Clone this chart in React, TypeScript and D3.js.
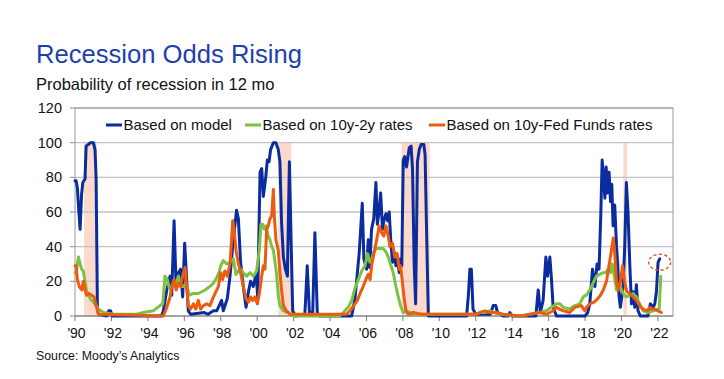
import React from "react";
import * as d3 from "d3";

type Pt = [number, number];

const yTicks = [0, 20, 40, 60, 80, 100, 120];
const xTickYears = [1990, 1992, 1994, 1996, 1998, 2000, 2002, 2004, 2006, 2008, 2010, 2012, 2014, 2016, 2018, 2020, 2022];
const xTickLabels = ["'90", "'92", "'94", "'96", "'98", "'00", "'02", "'04", "'06", "'08", "'10", "'12", "'14", "'16", "'18", "'20", "'22"];

const recessionStarts = [1990.5, 2001.17, 2007.92, 2020.1];
const recessionEnds = [1991.2, 2001.88, 2009.47, 2020.3];

const seriesNames = ["Based on model", "Based on 10y-2y rates", "Based on 10y-Fed Funds rates"];

const modelData: Pt[] = [
  [1990.0, 78], [1990.06, 78], [1990.13, 74], [1990.2, 62], [1990.28, 50], [1990.36, 70], [1990.43, 77], [1990.55, 79], [1990.61, 98], [1990.74, 99], [1990.83, 100], [1991.01, 100], [1991.1, 96], [1991.16, 79], [1991.23, 5], [1991.29, 1], [1991.75, 0], [1991.85, 3], [1991.95, 3], [1992.05, 0],
  [1994.75, 0], [1994.85, 3], [1995.04, 15], [1995.22, 23], [1995.31, 12], [1995.44, 55], [1995.55, 17], [1995.68, 25], [1995.8, 27], [1995.91, 11], [1996.02, 42], [1996.13, 21], [1996.22, 3], [1996.35, 1], [1997.1, 2], [1997.3, 1], [1997.6, 3], [1997.78, 3], [1997.96, 7], [1998.05, 9], [1998.14, 3], [1998.36, 10], [1998.51, 23], [1998.69, 44], [1998.87, 61], [1998.97, 56], [1999.09, 31], [1999.24, 17], [1999.39, 5], [1999.52, 14], [1999.64, 20], [1999.79, 17], [1999.94, 25], [2000.03, 11],
  [2000.16, 83], [2000.25, 85], [2000.34, 69], [2000.47, 80], [2000.56, 90], [2000.65, 89], [2000.74, 96], [2000.89, 100], [2001.03, 100], [2001.16, 96], [2001.25, 89], [2001.34, 54], [2001.44, 34], [2001.55, 27], [2001.66, 23], [2001.77, 89], [2001.84, 55], [2001.95, 3], [2002.1, 0], [2002.62, 1], [2002.75, 29], [2002.87, 2], [2003.05, 2], [2003.17, 48], [2003.3, 2], [2003.4, 0],
  [2005.19, 0], [2005.37, 10], [2005.6, 36], [2005.77, 65], [2005.86, 33], [2006.01, 27], [2006.1, 44], [2006.18, 28], [2006.28, 50], [2006.4, 56], [2006.52, 77], [2006.6, 53], [2006.69, 60], [2006.78, 71], [2006.88, 50], [2006.96, 55], [2007.07, 59], [2007.16, 55], [2007.25, 60], [2007.34, 43], [2007.43, 31], [2007.52, 37], [2007.62, 29], [2007.71, 33], [2007.8, 25], [2007.87, 33], [2007.94, 29],
  [2008.02, 90], [2008.1, 92], [2008.2, 86], [2008.35, 97], [2008.45, 98], [2008.53, 85], [2008.62, 30], [2008.7, 7], [2008.8, 89], [2008.9, 96], [2009.0, 99], [2009.15, 99], [2009.22, 93], [2009.3, 50], [2009.4, 0],
  [2011.5, 0], [2011.59, 11], [2011.68, 27], [2011.76, 27], [2011.85, 4], [2012.0, 1], [2012.8, 1], [2012.96, 6], [2013.1, 6], [2013.2, 2], [2013.5, 0], [2013.8, 0], [2013.87, 2], [2014.0, 0],
  [2015.3, 0], [2015.43, 15], [2015.55, 2], [2015.7, 9], [2015.85, 34], [2015.94, 23], [2016.07, 34], [2016.16, 21], [2016.25, 5], [2016.43, 0], [2018.0, 0], [2018.15, 2], [2018.26, 7], [2018.41, 27], [2018.54, 17], [2018.66, 30], [2018.77, 27], [2018.87, 60], [2018.94, 90], [2019.01, 81], [2019.09, 68], [2019.16, 86], [2019.23, 71], [2019.32, 83], [2019.4, 66], [2019.47, 76], [2019.54, 52], [2019.63, 64], [2019.73, 40], [2019.8, 29], [2019.87, 11], [2019.94, 5],
  [2020.09, 17], [2020.18, 40], [2020.27, 77], [2020.36, 60], [2020.46, 29], [2020.55, 7], [2020.64, 14], [2020.73, 5], [2020.82, 18], [2020.91, 3], [2021.04, 0], [2021.45, 0], [2021.59, 7], [2021.74, 5], [2021.83, 7], [2021.92, 14], [2022.01, 31], [2022.1, 33],
];

const spreadData: Pt[] = [
  [1990.0, 25], [1990.06, 25], [1990.19, 34], [1990.28, 30], [1990.37, 27], [1990.46, 26], [1990.55, 20], [1990.64, 14], [1990.74, 13], [1990.83, 10], [1991.01, 8], [1991.16, 6], [1991.29, 4], [1991.56, 2], [1992.11, 1], [1993.39, 1], [1993.75, 2], [1994.3, 3], [1994.67, 6], [1994.82, 7],
  [1994.94, 23], [1995.07, 21], [1995.18, 16], [1995.31, 17], [1995.4, 19], [1995.55, 19], [1995.68, 23], [1995.8, 17], [1995.95, 17], [1996.1, 19], [1996.17, 16], [1996.28, 12], [1996.5, 13], [1996.77, 13], [1996.96, 14], [1997.14, 15], [1997.41, 17], [1997.6, 19], [1997.78, 22], [1997.93, 26], [1998.0, 29], [1998.14, 32], [1998.33, 30], [1998.51, 31], [1998.69, 33], [1998.84, 24], [1998.97, 26], [1999.09, 27], [1999.24, 25], [1999.42, 23], [1999.61, 25], [1999.79, 23], [1999.97, 26],
  [2000.12, 38], [2000.21, 53], [2000.3, 53], [2000.39, 50], [2000.48, 52], [2000.61, 46], [2000.7, 44], [2000.8, 40], [2000.89, 38], [2000.98, 31], [2001.07, 24], [2001.16, 12], [2001.25, 6], [2001.44, 3], [2001.71, 2], [2002.0, 0], [2004.5, 0], [2004.73, 2], [2005.0, 5], [2005.19, 9], [2005.37, 16], [2005.55, 21], [2005.74, 26], [2005.92, 29], [2006.06, 36], [2006.19, 31], [2006.3, 33], [2006.4, 37], [2006.56, 39], [2006.74, 39], [2006.92, 39], [2007.07, 37], [2007.2, 34], [2007.32, 30], [2007.47, 25], [2007.62, 17], [2007.75, 11], [2007.87, 6], [2008.02, 2], [2008.2, 3], [2008.57, 1],
  [2012.0, 1], [2012.23, 2], [2012.5, 2], [2012.78, 3], [2013.0, 2], [2013.3, 1], [2014.4, 0], [2014.97, 1], [2015.52, 2], [2015.88, 3], [2016.16, 5], [2016.43, 7], [2016.62, 7], [2016.8, 5], [2017.16, 4], [2017.44, 6], [2017.71, 7], [2017.9, 11], [2018.08, 12], [2018.26, 15], [2018.44, 19], [2018.63, 23], [2018.81, 24], [2018.99, 25], [2019.14, 25], [2019.27, 27], [2019.4, 25], [2019.5, 30], [2019.61, 23], [2019.73, 15], [2019.84, 17], [2019.94, 17],
  [2020.09, 13], [2020.27, 11], [2020.46, 12], [2020.64, 13], [2020.82, 11], [2021.0, 7], [2021.19, 3], [2021.46, 2], [2021.74, 3], [2022.07, 4], [2022.16, 23],
];

const fedFundsData: Pt[] = [
  [1990.0, 29], [1990.06, 29], [1990.13, 21], [1990.24, 17], [1990.37, 15], [1990.46, 20], [1990.55, 15], [1990.64, 12], [1990.77, 13], [1990.92, 12], [1991.05, 11], [1991.16, 6], [1991.29, 1], [1994.85, 0],
  [1995.04, 5], [1995.22, 11], [1995.31, 17], [1995.44, 21], [1995.55, 15], [1995.68, 19], [1995.8, 17], [1995.91, 23], [1996.04, 28], [1996.13, 17], [1996.22, 6], [1996.35, 4], [1996.5, 7], [1996.63, 4], [1996.77, 9], [1996.9, 4], [1997.05, 6], [1997.23, 7], [1997.41, 6], [1997.56, 10], [1997.69, 13], [1997.87, 17], [1998.0, 25], [1998.1, 21], [1998.23, 26], [1998.36, 23], [1998.51, 30], [1998.66, 55], [1998.73, 50], [1998.84, 38], [1998.97, 30], [1999.09, 25], [1999.24, 17], [1999.39, 10], [1999.52, 8], [1999.64, 11], [1999.75, 9], [1999.88, 11], [2000.01, 7],
  [2000.12, 13], [2000.25, 23], [2000.34, 29], [2000.43, 27], [2000.52, 50], [2000.61, 52], [2000.7, 56], [2000.8, 58], [2000.89, 73], [2000.94, 58], [2001.03, 44], [2001.16, 38], [2001.25, 25], [2001.34, 15], [2001.44, 6], [2001.6, 3], [2001.8, 1], [2004.9, 1], [2005.1, 3], [2005.3, 6], [2005.5, 9], [2005.65, 13], [2005.82, 17], [2006.0, 22], [2006.1, 24], [2006.2, 21], [2006.3, 30], [2006.45, 38], [2006.58, 45], [2006.7, 52], [2006.83, 48], [2006.95, 46], [2007.07, 52], [2007.2, 46], [2007.29, 40], [2007.43, 42], [2007.56, 34], [2007.69, 36], [2007.8, 27], [2007.87, 29], [2007.98, 19], [2008.06, 11], [2008.17, 3], [2008.3, 1], [2008.57, 2], [2009.0, 1],
  [2012.0, 1], [2012.23, 2], [2012.5, 3], [2012.78, 2], [2013.14, 2], [2013.5, 1], [2014.5, 0], [2015.0, 1], [2015.52, 2], [2015.9, 1], [2016.25, 3], [2016.43, 5], [2016.6, 4], [2016.8, 3], [2017.16, 2], [2017.44, 5], [2017.8, 6], [2017.99, 3], [2018.08, 5], [2018.26, 7], [2018.5, 8], [2018.7, 10], [2018.85, 12], [2019.0, 15], [2019.18, 20], [2019.3, 28], [2019.45, 38], [2019.55, 45], [2019.64, 35], [2019.73, 20], [2019.82, 15], [2019.95, 20],
  [2020.06, 29], [2020.19, 19], [2020.3, 14], [2020.46, 13], [2020.64, 11], [2020.82, 9], [2021.0, 6], [2021.19, 4], [2021.4, 3], [2021.55, 5], [2021.7, 4], [2021.83, 4], [2022.0, 3], [2022.19, 2],
];

const highlightPoint: Pt = [2022.1, 31];

const FONT = "'Liberation Sans', Arial, Helvetica, sans-serif";
const COLORS = ["#0B2C9E", "#7CC142", "#EC5B0E"];

export default function App() {
  const W = 724;
  const H = 379;
  const x = d3.scaleLinear().domain([1990, 2022.83]).range([75, 673]);
  const y = d3.scaleLinear().domain([0, 120]).range([316, 108]);
  const line = d3
    .line<Pt>()
    .x((d) => x(d[0]))
    .y((d) => y(d[1]));
  const series = [modelData, spreadData, fedFundsData];
  const legendX = [106, 245, 429];

  return (
    <svg
      width={W}
      height={H}
      style={{ position: "absolute", left: 0, top: 0, display: "block", background: "#fff" }}
      fontFamily={FONT}
    >
      <rect x={0} y={0} width={W} height={H} fill="#fff" />
      <text x={36} y={63} fontSize={25.6} fill="#1F3FAA">Recession Odds Rising</text>
      <text x={36} y={90} fontSize={16.5} fill="#111">Probability of recession in 12 mo</text>

      {recessionStarts.map((s, i) => (
        <rect
          key={"r" + i}
          x={x(s)}
          y={y(100)}
          width={x(recessionEnds[i]) - x(s)}
          height={y(0) - y(100)}
          fill="#FCDACB"
        />
      ))}

      {yTicks.map((t) => (
        <g key={"y" + t}>
          {t > 0 && (
            <line x1={x.range()[0]} x2={x.range()[1]} y1={y(t)} y2={y(t)} stroke="#C3C3C3" strokeWidth={1.4} />
          )}
          <line x1={70} x2={x.range()[0]} y1={y(t)} y2={y(t)} stroke="#8C8C8C" strokeWidth={1} />
          <text x={62} y={y(t) + 5} fontSize={14.5} textAnchor="end" fill="#111">{t}</text>
        </g>
      ))}

      <rect x={x.range()[0]} y={y(120)} width={x.range()[1] - x.range()[0]} height={y(0) - y(120)} fill="none" stroke="#9A9A9A" strokeWidth={1} />
      <line x1={x.range()[0]} x2={x.range()[1]} y1={y(0)} y2={y(0)} stroke="#7A7A7A" strokeWidth={1.2} />

      {xTickYears.map((yr, i) => (
        <g key={"x" + yr}>
          <line x1={x(yr)} x2={x(yr)} y1={y(0)} y2={y(0) + 5} stroke="#7A7A7A" strokeWidth={1} />
          <text x={x(yr) + 1.5} y={338} fontSize={14} textAnchor="middle" fill="#111">{xTickLabels[i]}</text>
        </g>
      ))}

      {series.map((s, i) => (
        <path
          key={"s" + i}
          d={line(s) || ""}
          fill="none"
          stroke={COLORS[i]}
          strokeWidth={3}
          strokeLinejoin="round"
          strokeLinecap="round"
        />
      ))}

      <ellipse
        cx={x(highlightPoint[0])}
        cy={y(highlightPoint[1])}
        rx={11}
        ry={8}
        fill="none"
        stroke="#EE4B23"
        strokeWidth={1.4}
        strokeDasharray="3,2.5"
      />

      {seriesNames.map((n, i) => (
        <g key={"l" + i}>
          <line x1={legendX[i]} x2={legendX[i] + 16} y1={125} y2={125} stroke={COLORS[i]} strokeWidth={3} />
          <text x={legendX[i] + 17.5} y={130} fontSize={15} fill="#111">{n}</text>
        </g>
      ))}

      <text x={36} y={360} fontSize={12.3} fill="#111">Source: Moody’s Analytics</text>
    </svg>
  );
}
